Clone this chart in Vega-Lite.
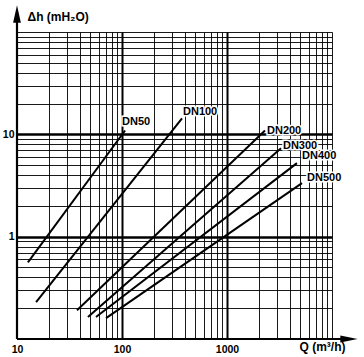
{
  "$schema": "https://vega.github.io/schema/vega-lite/v6.json",
  "autosize": "none",
  "width": 315,
  "height": 307,
  "padding": {"left": 17, "top": 32, "right": 32, "bottom": 18},
  "background": "white",
  "config": {
    "view": {"stroke": null},
    "font": "Liberation Sans",
    "axis": {"labelFont": "Liberation Sans", "titleFont": "Liberation Sans"}
  },
  "datasets": {
    "curves": [
      {"series": "DN50", "Q": 12.7, "dh": 0.56},
      {"series": "DN50", "Q": 107, "dh": 10.9},
      {"series": "DN100", "Q": 15.2, "dh": 0.229},
      {"series": "DN100", "Q": 373, "dh": 14.3},
      {"series": "DN200", "Q": 37.3, "dh": 0.191},
      {"series": "DN200", "Q": 2300, "dh": 10.9},
      {"series": "DN300", "Q": 47.4, "dh": 0.164},
      {"series": "DN300", "Q": 3270, "dh": 7.31},
      {"series": "DN400", "Q": 56.5, "dh": 0.164},
      {"series": "DN400", "Q": 4640, "dh": 5.23},
      {"series": "DN500", "Q": 70.5, "dh": 0.16},
      {"series": "DN500", "Q": 5180, "dh": 3.34}
    ],
    "labels": [
      {"series": "DN50", "Q": 100, "dh": 13.1},
      {"series": "DN100", "Q": 381, "dh": 16.7},
      {"series": "DN200", "Q": 2404, "dh": 10.9},
      {"series": "DN300", "Q": 3412, "dh": 7.65},
      {"series": "DN400", "Q": 5180, "dh": 6.11},
      {"series": "DN500", "Q": 5780, "dh": 3.74}
    ],
    "axislines": [
      {"Q": 10, "dh": 0.1, "Q2": 10, "dh2": 150},
      {"Q": 10, "dh": 0.1, "Q2": 14500, "dh2": 0.1}
    ],
    "arrows": [
      {"dir": "up", "Q": 10, "dh": 150},
      {"dir": "right", "Q": 14500, "dh": 0.1}
    ]
  },
  "layer": [
    {
      "data": {"name": "curves"},
      "mark": {"type": "line", "color": "black", "strokeWidth": 2, "clip": false},
      "encoding": {
        "x": {
          "field": "Q", "type": "quantitative",
          "scale": {"type": "log", "domain": [10, 10000], "nice": false},
          "axis": {
            "values": [10,20,30,40,50,60,70,80,90,100,200,300,400,500,600,700,800,900,1000,2000,3000,4000,5000,6000,7000,8000,9000,10000],
            "labelExpr": "datum.value == 10 ? '10' : datum.value == 100 ? '100' : datum.value == 1000 ? '1000' : ''",
            "domain": false, "ticks": false,
            "grid": true, "gridColor": "black", "gridOpacity": 1,
            "gridWidth": {"condition": {"test": "datum.value == 100 || datum.value == 1000", "value": 2}, "value": 0.9},
            "labelFontSize": 10.5, "labelFontWeight": "bold", "labelColor": "black", "labelPadding": 5,
            "labelFlush": false, "labelOverlap": false,
            "title": "Q (m³/h)", "titleFontSize": 12, "titleFontWeight": "bold", "titleColor": "black",
            "titleAnchor": "end", "titleAlign": "right", "titleBaseline": "top",
            "titleX": 328, "titleY": 2
          }
        },
        "y": {
          "field": "dh", "type": "quantitative",
          "scale": {"type": "log", "domain": [0.1, 100], "nice": false},
          "axis": {
            "values": [0.1,0.2,0.3,0.4,0.5,0.6,0.7,0.8,0.9,1,2,3,4,5,6,7,8,9,10,20,30,40,50,60,70,80,90,100],
            "labelExpr": "datum.value == 1 ? '1' : datum.value == 10 ? '10' : ''",
            "domain": false, "ticks": false,
            "grid": true, "gridColor": "black", "gridOpacity": 1,
            "gridWidth": {"condition": {"test": "datum.value == 1 || datum.value == 10", "value": 2.5}, "value": 0.9},
            "labelFontSize": 10.5, "labelFontWeight": "bold", "labelColor": "black", "labelPadding": 3,
            "labelOverlap": false,
            "title": "Δh (mH₂O)", "titleFontSize": 12, "titleFontWeight": "bold", "titleColor": "black",
            "titleAngle": 0, "titleAlign": "left", "titleBaseline": "middle",
            "titleX": 10, "titleY": -16
          }
        },
        "detail": {"field": "series"}
      }
    },
    {
      "data": {"name": "labels"},
      "mark": {"type": "text", "align": "left", "baseline": "middle", "fontSize": 11, "fontWeight": "bold", "color": "white", "stroke": "white", "strokeWidth": 3, "clip": false},
      "encoding": {
        "x": {"field": "Q", "type": "quantitative"},
        "y": {"field": "dh", "type": "quantitative"},
        "text": {"field": "series"}
      }
    },
    {
      "data": {"name": "labels"},
      "mark": {"type": "text", "align": "left", "baseline": "middle", "fontSize": 11, "fontWeight": "bold", "color": "black", "clip": false},
      "encoding": {
        "x": {"field": "Q", "type": "quantitative"},
        "y": {"field": "dh", "type": "quantitative"},
        "text": {"field": "series"}
      }
    },
    {
      "data": {"name": "axislines"},
      "mark": {"type": "rule", "color": "black", "strokeWidth": 2.2, "clip": false},
      "encoding": {
        "x": {"field": "Q", "type": "quantitative"},
        "y": {"field": "dh", "type": "quantitative"},
        "x2": {"field": "Q2"},
        "y2": {"field": "dh2"}
      }
    },
    {
      "data": {"name": "arrows"},
      "mark": {"type": "point", "filled": true, "color": "black", "opacity": 1, "clip": false, "size": 300},
      "encoding": {
        "x": {"field": "Q", "type": "quantitative"},
        "y": {"field": "dh", "type": "quantitative"},
        "shape": {
          "field": "dir", "type": "nominal",
          "scale": {"domain": ["up", "right"], "range": ["M0,-1L0.45,1L-0.45,1Z", "M-1,-0.4L1,0L-1,0.4Z"]},
          "legend": null
        }
      }
    }
  ]
}
